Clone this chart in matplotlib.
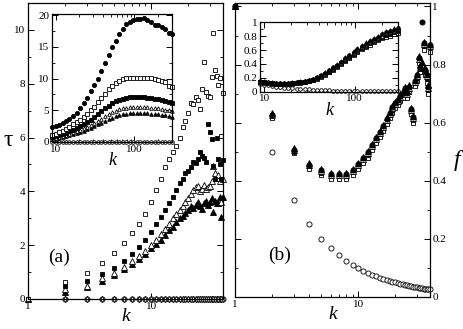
import numpy as np
import matplotlib.pyplot as plt
from matplotlib.ticker import LogLocator, NullFormatter, MultipleLocator

plt.rcParams['font.family'] = ['Liberation Serif', 'DejaVu Serif']

# ---- main panels: degree k = 1..38
k_main = np.arange(1, 39)

# (a) tau vs k
tau_osq = [0, 0.62, 0.95, 1.32, 1.70, 2.07, 2.45, 2.80, 3.15, 3.60,
           4.05, 4.45, 4.90, 5.20, 5.45, 5.70, 6.00, 6.40, 6.60, 6.90,
           7.30, 7.25, 7.50, 7.40, 7.05, 7.80, 8.80, 7.70, 7.55, 7.50,
           8.25, 9.90, 8.50, 8.30, 7.95, 8.20, 6.05, 7.65]
tau_fsq = [0, 0.48, 0.66, 0.93, 1.17, 1.43, 1.67, 1.94, 2.19, 2.49,
           2.78, 3.05, 3.30, 3.55, 3.80, 4.05, 4.30, 4.45, 4.70, 4.75,
           4.90, 5.10, 5.05, 5.20, 5.45, 5.30, 5.25, 5.10, 6.50, 6.20,
           5.95, 4.95, 4.45, 6.00, 5.20, 5.00, 4.45, 5.15]
tau_otri = [0, 0.37, 0.50, 0.77, 0.97, 1.20, 1.40, 1.59, 1.79, 2.00,
            2.20, 2.43, 2.60, 2.80, 3.00, 3.17, 3.30, 3.45, 3.60, 3.75,
            3.90, 4.05, 4.15, 4.20, 4.00, 4.10, 4.25, 4.10, 4.15, 4.20,
            4.40, 4.95, 4.70, 4.50, 4.60, 4.40, 3.60, 4.45]
tau_ftri = [0, 0.27, 0.45, 0.67, 0.88, 1.10, 1.30, 1.49, 1.67, 1.91,
            2.04, 2.19, 2.37, 2.56, 2.68, 2.86, 3.00, 3.10, 3.20, 3.30,
            3.45, 3.40, 3.50, 3.60, 3.45, 3.35, 3.55, 3.65, 3.50, 3.60,
            3.75, 3.25, 3.65, 3.55, 3.55, 3.80, 3.05, 3.80]
tau_zero = [0.0] * 38

# (b) f vs k
f_osq = [1.0, 0.615, 0.495, 0.44, 0.42, 0.405, 0.405, 0.405, 0.42, 0.44,
         0.46, 0.48, 0.505, 0.53, 0.55, 0.57, 0.595, 0.615, 0.635, 0.65,
         0.66, 0.675, 0.685, 0.70, 0.685, 0.705, 0.63, 0.60, 0.725, 0.745,
         0.805, 0.775, 0.785, 0.85, 0.765, 0.735, 0.70, 0.845]
f_fsq = [1.0, 0.625, 0.50, 0.45, 0.428, 0.415, 0.415, 0.415, 0.43, 0.45,
         0.47, 0.49, 0.515, 0.54, 0.56, 0.58, 0.605, 0.625, 0.645, 0.66,
         0.67, 0.685, 0.695, 0.71, 0.695, 0.715, 0.64, 0.61, 0.735, 0.755,
         0.815, 0.785, 0.795, 0.865, 0.775, 0.75, 0.714, 0.86]
f_otri = [1.0, 0.628, 0.505, 0.453, 0.433, 0.42, 0.42, 0.42, 0.435, 0.455,
          0.475, 0.495, 0.52, 0.545, 0.565, 0.585, 0.61, 0.63, 0.65, 0.665,
          0.675, 0.69, 0.70, 0.715, 0.70, 0.72, 0.645, 0.615, 0.74, 0.76,
          0.82, 0.79, 0.80, 0.87, 0.78, 0.76, 0.72, 0.865]
f_ftri = [1.0, 0.632, 0.512, 0.46, 0.44, 0.428, 0.428, 0.428, 0.442, 0.462,
          0.482, 0.502, 0.528, 0.552, 0.572, 0.592, 0.618, 0.638, 0.658, 0.672,
          0.682, 0.698, 0.708, 0.722, 0.708, 0.728, 0.652, 0.622, 0.748, 0.768,
          0.828, 0.798, 0.808, 0.878, 0.788, 0.768, 0.728, 0.872]
f_fcirc = [1.0, 0.627, 0.507, 0.456, 0.436, 0.424, 0.424, 0.424, 0.438, 0.458,
           0.478, 0.498, 0.523, 0.548, 0.568, 0.588, 0.613, 0.633, 0.653, 0.668,
           0.678, 0.693, 0.703, 0.718, 0.703, 0.723, 0.648, 0.618, 0.743, 0.763,
           0.823, 0.793, 0.946, 0.873, 0.783, 0.763, 0.722, 0.867]
f_ocirc = [1.0, 0.5, 0.333, 0.25, 0.2, 0.167, 0.143, 0.125, 0.111, 0.1,
           0.091, 0.083, 0.077, 0.071, 0.067, 0.063, 0.059, 0.056, 0.053, 0.05,
           0.048, 0.045, 0.043, 0.042, 0.04, 0.038, 0.037, 0.036, 0.034, 0.033,
           0.032, 0.031, 0.03, 0.029, 0.029, 0.028, 0.027, 0.026]

# ---- insets
k_ins = [9, 10, 11, 12.3, 13.6, 15, 16.7, 18.5, 20.5, 22.8,
         25, 28, 31, 34.5, 38, 42, 47, 52, 58, 64,
         71, 79, 87, 97, 107, 119, 132, 146, 162, 180,
         200, 221, 245, 272, 300]

itau_fcirc = [2.3, 2.55, 2.75, 3.0, 3.3, 3.6, 4.1, 4.6, 5.3, 6.2,
              7.0, 8.0, 9.0, 10.0, 11.2, 12.5, 13.8, 15.0, 16.0, 17.0,
              17.9, 18.6, 19.0, 19.2, 19.4, 19.4, 19.6, 19.2, 18.9, 18.5,
              18.4, 18.2, 17.9, 17.2, 17.0]
itau_osq = [1.1, 1.3, 1.55, 1.8, 2.1, 2.4, 2.8, 3.15, 3.5, 3.95,
            4.45, 5.0, 5.6, 6.3, 6.9, 7.6, 8.3, 8.9, 9.3, 9.65,
            9.9, 10.05, 10.1, 10.15, 10.15, 10.15, 10.15, 10.1, 10.05, 10.0,
            9.85, 9.6, 9.4, 8.9, 8.7]
itau_fsq = [0.75, 0.9, 1.05, 1.25, 1.45, 1.7, 1.95, 2.2, 2.5, 2.8,
            3.15, 3.5, 3.9, 4.4, 4.85, 5.3, 5.75, 6.1, 6.4, 6.65,
            6.85, 6.95, 7.05, 7.1, 7.1, 7.1, 7.05, 7.0, 6.95, 6.85,
            6.75, 6.6, 6.5, 6.3, 6.2]
itau_otri = [0.55, 0.65, 0.8, 0.95, 1.1, 1.3, 1.5, 1.7, 1.9, 2.15,
             2.4, 2.7, 3.0, 3.35, 3.7, 4.05, 4.4, 4.7, 4.95, 5.15,
             5.3, 5.4, 5.45, 5.45, 5.5, 5.5, 5.45, 5.45, 5.4, 5.35,
             5.3, 5.2, 5.1, 5.0, 4.95]
itau_ftri = [0.4, 0.5, 0.6, 0.75, 0.9, 1.05, 1.2, 1.4, 1.6, 1.8,
             2.0, 2.25, 2.5, 2.8, 3.05, 3.35, 3.6, 3.85, 4.05, 4.2,
             4.35, 4.45, 4.5, 4.55, 4.55, 4.55, 4.5, 4.5, 4.45, 4.4,
             4.35, 4.3, 4.2, 4.1, 3.9]
itau_zero = [0.0] * 35

if_ftri = [0.16, 0.15, 0.14, 0.135, 0.13, 0.13, 0.13, 0.13, 0.135, 0.14,
           0.15, 0.16, 0.175, 0.19, 0.215, 0.245, 0.28, 0.32, 0.36, 0.40,
           0.445, 0.495, 0.535, 0.585, 0.63, 0.67, 0.71, 0.75, 0.78, 0.81,
           0.845, 0.87, 0.895, 0.915, 0.935]
if_fcirc = [0.155, 0.145, 0.135, 0.13, 0.125, 0.125, 0.125, 0.125, 0.13, 0.135,
            0.145, 0.155, 0.17, 0.185, 0.21, 0.24, 0.27, 0.31, 0.35, 0.39,
            0.435, 0.485, 0.525, 0.575, 0.615, 0.655, 0.695, 0.735, 0.765, 0.795,
            0.83, 0.855, 0.875, 0.895, 0.915]
if_otri = [0.15, 0.14, 0.13, 0.125, 0.12, 0.12, 0.12, 0.12, 0.125, 0.13,
           0.14, 0.15, 0.165, 0.18, 0.2, 0.23, 0.26, 0.3, 0.34, 0.38,
           0.42, 0.47, 0.51, 0.56, 0.6, 0.64, 0.68, 0.72, 0.75, 0.78,
           0.81, 0.84, 0.86, 0.88, 0.9]
if_fsq = [0.145, 0.135, 0.125, 0.12, 0.115, 0.115, 0.115, 0.115, 0.12, 0.125,
          0.135, 0.145, 0.16, 0.175, 0.195, 0.22, 0.25, 0.29, 0.33, 0.37,
          0.41, 0.455, 0.495, 0.545, 0.585, 0.625, 0.665, 0.70, 0.73, 0.76,
          0.79, 0.815, 0.835, 0.855, 0.875]
if_osq = [0.14, 0.13, 0.12, 0.115, 0.11, 0.11, 0.11, 0.11, 0.115, 0.12,
          0.13, 0.14, 0.155, 0.17, 0.19, 0.215, 0.245, 0.28, 0.32, 0.36,
          0.40, 0.445, 0.485, 0.53, 0.57, 0.61, 0.645, 0.68, 0.71, 0.74,
          0.77, 0.79, 0.81, 0.83, 0.85]
if_ocirc = [0.111, 0.100, 0.091, 0.081, 0.074, 0.067, 0.060, 0.054, 0.049, 0.044,
            0.040, 0.036, 0.032, 0.029, 0.026, 0.024, 0.021, 0.019, 0.017, 0.016,
            0.014, 0.013, 0.011, 0.010, 0.009, 0.008, 0.008, 0.007, 0.006, 0.006,
            0.005, 0.005, 0.004, 0.004, 0.003]


def pts(ax, x, y, marker, filled, ms):
    ax.plot(x, y, ls='none', marker=marker, ms=ms, mew=0.6, mec='k',
            mfc='k' if filled else 'white', clip_on=False)


def style(ax, ylo, yhi, ymaj, ymin, xlo, xhi, xticks):
    ax.set_xscale('log')
    ax.set_xlim(xlo, xhi)
    ax.set_ylim(ylo, yhi)
    ax.set_xticks(xticks, [str(t) for t in xticks])
    ax.xaxis.set_minor_locator(LogLocator(base=10, subs=np.arange(2, 10)))
    ax.xaxis.set_minor_formatter(NullFormatter())
    ax.yaxis.set_major_locator(MultipleLocator(ymaj))
    ax.yaxis.set_minor_locator(MultipleLocator(ymin))
    ax.tick_params(which='both', direction='in', top=True, right=True,
                   labelsize=8, pad=2)
    ax.tick_params(which='major', length=4, width=0.7)
    ax.tick_params(which='minor', length=2, width=0.6)
    for s in ax.spines.values():
        s.set_linewidth(0.9)


fig = plt.figure(figsize=(4.63, 3.29), dpi=100)
axA = fig.add_axes([0.0605, 0.0912, 0.4201, 0.8997])
axB = fig.add_axes([0.5076, 0.0973, 0.4201, 0.8936])
insA = fig.add_axes([0.1123, 0.5684, 0.2592, 0.389])
insB = fig.add_axes([0.5616, 0.7213, 0.298, 0.2128])

# panel (a)
ms = 3.7
pts(axA, k_main[1:], tau_zero[1:], 'o', False, ms)
pts(axA, k_main[1:], tau_zero[1:], 'd', False, ms - 0.6)
pts(axA, k_main, tau_ftri, '^', True, ms)
pts(axA, k_main, tau_otri, '^', False, ms)
pts(axA, k_main, tau_fsq, 's', True, ms - 0.4)
pts(axA, k_main, tau_osq, 's', False, ms - 0.4)
style(axA, 0, 11, 2, 1, 1, 38, [1, 10])
axA.set_xlabel('k', fontsize=14, style='italic')
axA.xaxis.set_label_coords(0.5, -0.03)
axA.set_ylabel('τ', fontsize=17, rotation=0)
axA.yaxis.set_label_coords(-0.1, 0.5)
axA.text(0.16, 0.14, '(a)', transform=axA.transAxes, fontsize=14,
         ha='center', va='center')

# panel (b)
pts(axB, k_main, f_ocirc, 'o', False, ms)
pts(axB, k_main, f_osq, 's', False, ms - 0.4)
pts(axB, k_main, f_fsq, 's', True, ms - 0.4)
pts(axB, k_main, f_otri, '^', False, ms)
pts(axB, k_main, f_ftri, '^', True, ms)
pts(axB, k_main, f_fcirc, 'o', True, ms)
style(axB, 0, 1.012, 0.2, 0.1, 1, 38, [1, 10])
axB.tick_params(which='both', labelleft=False, labelright=True)
axB.set_yticks([0, 0.2, 0.4, 0.6, 0.8, 1], ['0', '0.2', '0.4', '0.6', '0.8', '1'])
axB.set_xlabel('k', fontsize=14, style='italic')
axB.xaxis.set_label_coords(0.5, -0.03)
axB.yaxis.set_label_position('right')
axB.set_ylabel('f', fontsize=17, style='italic', rotation=0)
axB.yaxis.set_label_coords(1.14, 0.5)
axB.text(0.23, 0.14, '(b)', transform=axB.transAxes, fontsize=14,
         ha='center', va='center')

# inset of (a)
mi = 2.6
pts(insA, k_ins, itau_zero, 'o', False, mi)
pts(insA, k_ins, itau_ftri, '^', True, mi)
pts(insA, k_ins, itau_otri, '^', False, mi)
pts(insA, k_ins, itau_fsq, 's', True, mi)
pts(insA, k_ins, itau_osq, 's', False, mi)
pts(insA, k_ins, itau_fcirc, 'o', True, mi + 0.4)
style(insA, 0, 20.2, 5, 2.5, 9, 300, [10, 100])
insA.set_xlabel('k', fontsize=13, style='italic', labelpad=-1)

# inset of (b)
pts(insB, k_ins, if_ocirc, 'o', False, mi)
pts(insB, k_ins, if_osq, 's', False, mi)
pts(insB, k_ins, if_fsq, 's', True, mi)
pts(insB, k_ins, if_otri, '^', False, mi)
pts(insB, k_ins, if_ftri, '^', True, mi)
pts(insB, k_ins, if_fcirc, 'o', True, mi)
style(insB, 0, 1.01, 0.2, 0.1, 9, 300, [10, 100])
insB.set_yticks([0, 0.2, 0.4, 0.6, 0.8, 1], ['0', '0.2', '0.4', '0.6', '0.8', '1'])
insB.set_xlabel('k', fontsize=13, style='italic', labelpad=-1)

fig.savefig('out.png', dpi=100)
